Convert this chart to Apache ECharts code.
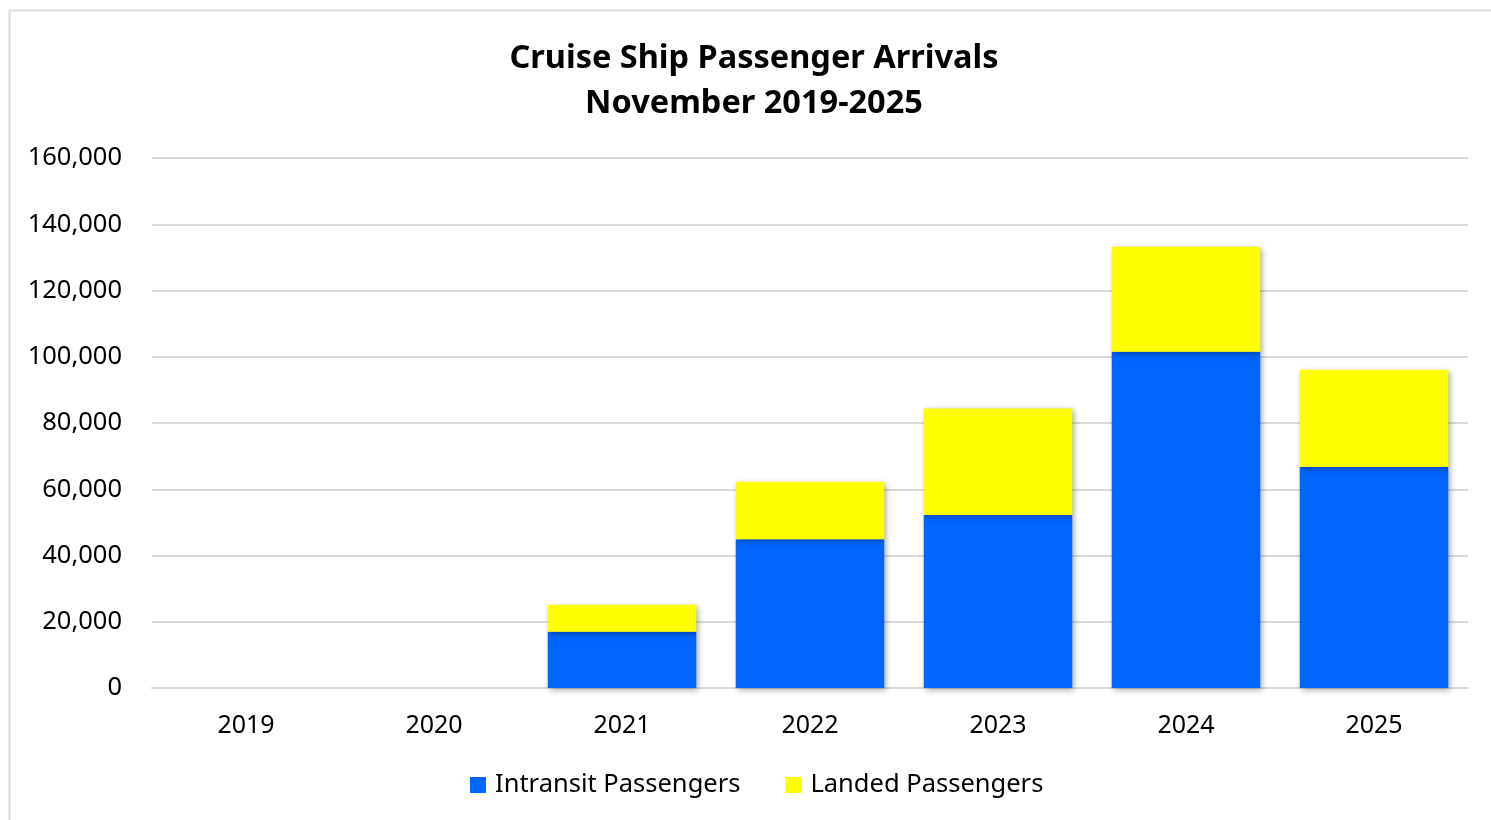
<!DOCTYPE html>
<html><head><meta charset="utf-8">
<script src="https://cdn.jsdelivr.net/npm/echarts@6/dist/echarts.min.js"></script>
<style>html,body{margin:0;padding:0;background:#fff;}#c{width:1491px;height:820px;}</style>
</head><body><div id="c"></div>
<script>
const years = ['2019','2020','2021','2022','2023','2024','2025'];
const intransit = [0, 0, 17000, 44900, 52200, 101500, 66700];
const landed = [0, 0, 8100, 17400, 32200, 31700, 29400];
const yTicks = [0, 20000, 40000, 60000, 80000, 100000, 120000, 140000, 160000];

const chart = echarts.init(document.getElementById('c'));
const font = '"Noto Sans", "Open Sans", sans-serif';
const shadow = {shadowBlur: 6, shadowOffsetX: 2, shadowOffsetY: 2, shadowColor: 'rgba(0,0,0,0.35)'};
chart.setOption({
  animation: false,
  graphic: [{type: 'rect', shape: {x: 9.5, y: 10.5, width: 1600, height: 900}, style: {fill: 'none', stroke: '#d9d9d9', lineWidth: 2}, silent: true, z: -10}],
  title: {
    text: 'Cruise Ship Passenger Arrivals\nNovember 2019-2025',
    left: 749, top: 31, textAlign: 'center',
    textStyle: {fontFamily: font, fontWeight: 'bold', fontSize: 32.5, color: '#000', lineHeight: 45}
  },
  legend: {
    bottom: 17, left: 465, itemWidth: 16, itemHeight: 16, itemGap: 45, icon: 'rect',
    textStyle: {fontFamily: font, fontSize: 25.5, color: '#000', padding: [0, 0, 0, 4]}
  },
  grid: {left: 152, right: 23, top: 158, bottom: 132, containLabel: false},
  xAxis: {
    type: 'category', data: years,
    axisLine: {lineStyle: {color: '#d9d9d9', width: 2}},
    axisTick: {show: false},
    axisLabel: {fontFamily: font, fontSize: 25, color: '#000', margin: 25}
  },
  yAxis: {
    type: 'value', min: yTicks[0], max: yTicks[yTicks.length - 1], interval: yTicks[1] - yTicks[0],
    axisLine: {show: false}, axisTick: {show: false},
    splitLine: {lineStyle: {color: '#d9d9d9', width: 2}},
    axisLabel: {fontFamily: font, fontSize: 25.5, color: '#000', margin: 30, padding: [4, 0, 0, 0],
      formatter: v => v.toLocaleString('en-US')}
  },
  series: [
    {name: 'Intransit Passengers', type: 'bar', stack: 'a', data: intransit, barWidth: '79%',
     itemStyle: Object.assign({color: '#0066ff'}, shadow)},
    {name: 'Landed Passengers', type: 'bar', stack: 'a', data: landed, barWidth: '79%',
     itemStyle: Object.assign({color: '#ffff00'}, shadow)}
  ]
});
</script></body></html>
